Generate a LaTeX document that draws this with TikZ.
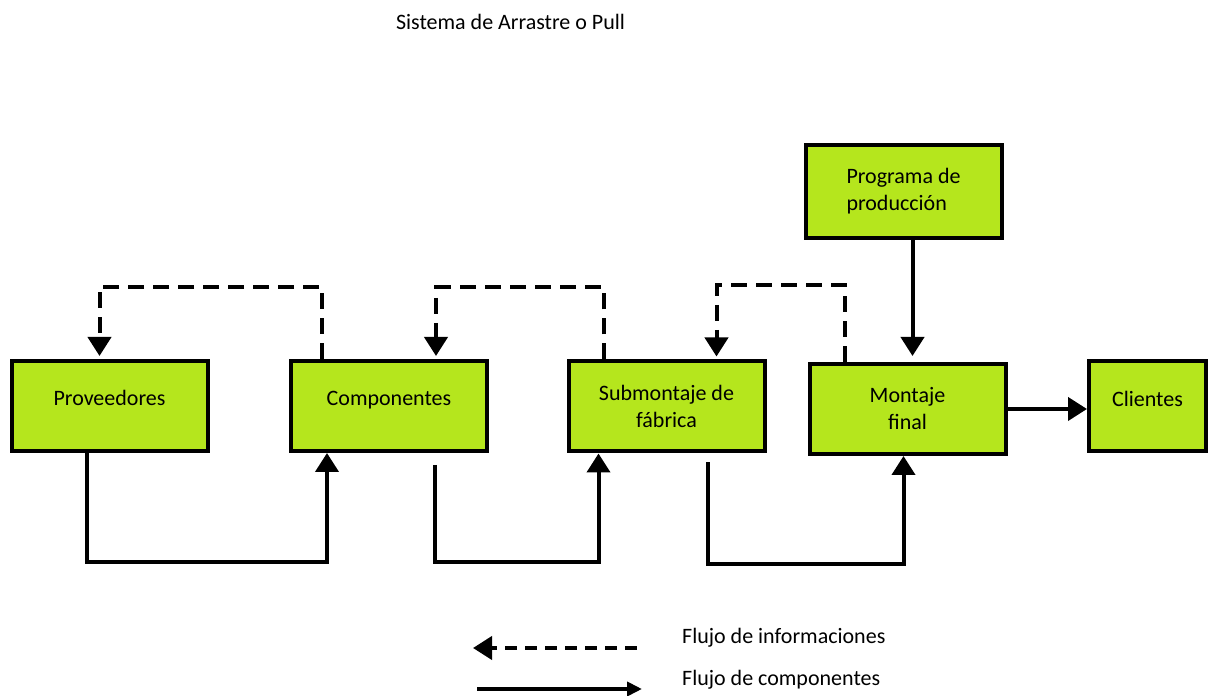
\documentclass[tikz,border=0pt]{standalone}
\usepackage{fontspec}
\setmainfont{Carlito}
\usetikzlibrary{arrows.meta,positioning}
\definecolor{verdelima}{RGB}{181,230,29}

\begin{document}
\begin{tikzpicture}[x=1pt, y=1pt,
  caja/.style={draw, line width=4pt, fill=verdelima, minimum width=196pt,
               minimum height=90pt, align=center, inner sep=2pt,
               font=\fontsize{22}{27}\selectfont},
  unalinea/.style={text height=15pt, text depth=15pt},
  flujo/.style={line width=4pt, -{Triangle[length=19pt,width=23pt]}},
  info/.style={flujo, dash pattern=on 16pt off 9pt, shorten >=3pt},
  texto/.style={font=\fontsize{22}{27}\selectfont, inner sep=0pt}
]
  \useasboundingbox (0,0) rectangle (1210,696);

  \node[texto] (titulo) at (510.5,674) {Sistema de Arrastre o Pull};

  \node[caja, unalinea] (prov) at (109.5,290) {Proveedores};
  \node[caja, unalinea] (comp) at (389,290)   {Componentes};
  \node[caja] (sub)  at (666.5,289.5) {Submontaje de\\fábrica};
  \node[caja] (mont) at (907.5,287)   {Montaje\\final};
  \node[caja, unalinea, minimum width=117pt] (cli) at (1147.5,289.5) {Clientes};
  \node[caja, align=left, minimum height=93pt] (prog) at (903.5,504.5)
    {Programa de\\producción};

  % flujo de informaciones
  \draw[info] ([xshift=-67pt]comp.north) -- ++(0,72) -| ([xshift=-10pt]prov.north);
  \draw[info] ([xshift=-63pt]sub.north)  -- ++(0,72) -| ([xshift=47pt]comp.north);
  \draw[info] ([xshift=-63pt]mont.north) -- ++(0,77) -| ([xshift=50pt]sub.north);

  % flujo de componentes
  \draw[flujo] ([xshift=-23pt]prov.south) -- ++(0,-109) -| ([xshift=-62pt]comp.south);
  \draw[flujo, shorten <=12pt] ([xshift=46pt]comp.south) -- ++(0,-109)
    -| ([xshift=-68pt]sub.south);
  \draw[flujo, shorten <=9pt] ([xshift=41pt]sub.south) -- ++(0,-111)
    -| ([xshift=-4pt]mont.south);
  \draw[flujo, shorten >=6pt] ([xshift=9pt]prog.south)
    -- ([xshift=9pt]prog.south |- mont.north);
  \draw[flujo] (mont.east) -- (mont.east -| cli.west);

  % leyenda
  \coordinate (infoini) at (637,48);
  \coordinate (infofin) at (473,48);
  \coordinate (compini) at (477,7);
  \coordinate (compfin) at (642,7);
  \draw[flujo, dash pattern=on 12pt off 8pt] (infoini) -- (infofin);
  \draw[line width=4pt, -{Triangle[length=15pt,width=14pt]}] (compini) -- (compfin);
  \node[texto, anchor=west] (leyinfo) at (682,58) {Flujo de informaciones};
  \node[texto, anchor=west] (leycomp) at (682,16) {Flujo de componentes};
\end{tikzpicture}
\end{document}
